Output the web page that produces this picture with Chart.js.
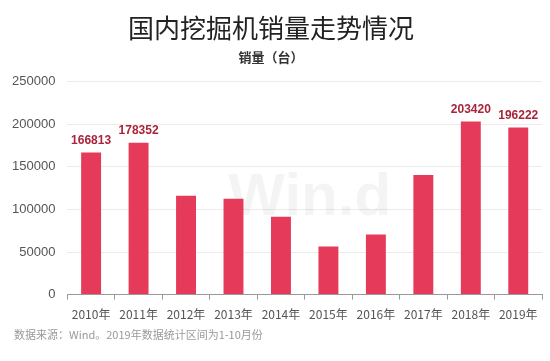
<!DOCTYPE html>
<html>
<head>
<meta charset="utf-8">
<script src="https://cdn.jsdelivr.net/npm/chart.js@4"></script>
<style>
  html, body { margin: 0; padding: 0; background: #fff; }
  #wrap { width: 550px; height: 361px; }
</style>
</head>
<body>
<div id="wrap"><canvas id="salesChart" width="550" height="361"></canvas></div>
<script>
const years = ['2010年', '2011年', '2012年', '2013年', '2014年', '2015年', '2016年', '2017年', '2018年', '2019年'];
const sales = [166813, 178352, 116000, 112500, 91500, 56500, 70500, 140500, 203420, 196222];
const labelled = [true, true, false, false, false, false, false, false, true, true];
const yTicks = [0, 50000, 100000, 150000, 200000, 250000];
const sourceNote = '数据来源：Wind。2019年数据统计区间为1-10月份';

const fontFamily = '"Noto Sans CJK SC", "Noto Sans", sans-serif';

// value labels over selected bars, watermark and the source note
const extras = {
    id: 'extras',
    beforeDatasetsDraw(chart) {
        const c = chart.ctx;
        const area = chart.chartArea;
        c.save();
        c.fillStyle = 'rgba(0,0,0,0.045)';
        c.font = 'bold 60px "Liberation Sans", sans-serif';
        c.textAlign = 'center';
        c.textBaseline = 'middle';
        c.fillText('Win.d', (area.left + area.right) / 2 + 5, 198);
        c.restore();
    },
    afterDatasetsDraw(chart) {
        const c = chart.ctx;
        const meta = chart.getDatasetMeta(0);
        c.save();
        c.fillStyle = '#a8243a';
        c.font = 'bold 12px "Liberation Sans", sans-serif';
        c.textAlign = 'center';
        c.textBaseline = 'bottom';
        meta.data.forEach((bar, i) => {
            if (!labelled[i]) return;
            c.fillText(String(sales[i]), bar.x, bar.y - 6);
        });
        c.fillStyle = '#9a9a9a';
        c.font = '11px ' + fontFamily;
        c.textAlign = 'left';
        c.textBaseline = 'middle';
        c.fillText(sourceNote, 14, 335);
        c.restore();
    }
};

new Chart(document.getElementById('salesChart'), {
    type: 'bar',
    data: {
        labels: years,
        datasets: [{
            data: sales,
            backgroundColor: '#e63a5b',
            borderWidth: 0,
            barPercentage: 0.42,
            categoryPercentage: 1
        }]
    },
    options: {
        responsive: false,
        animation: false,
        layout: { padding: { left: 0, right: 8, top: 0, bottom: 31 } },
        plugins: {
            legend: { display: false },
            tooltip: { enabled: false },
            title: {
                display: true,
                text: '国内挖掘机销量走势情况',
                color: '#222',
                font: { family: fontFamily, size: 26, weight: 'normal' },
                padding: { top: 13, bottom: 5 }
            },
            subtitle: {
                display: true,
                text: '销量（台）',
                color: '#333',
                font: { family: fontFamily, size: 13, weight: 'bold' },
                padding: { top: 0, bottom: 17 }
            }
        },
        scales: {
            x: {
                grid: { display: true, drawOnChartArea: false, tickLength: 5, color: '#999' },
                border: { color: '#999' },
                ticks: {
                    color: '#555',
                    padding: 8,
                    font: { family: fontFamily, size: 12 },
                    maxRotation: 0,
                    autoSkip: false
                }
            },
            y: {
                min: 0,
                max: 250000,
                afterBuildTicks(axis) {
                    axis.ticks = yTicks.map(v => ({ value: v }));
                },
                grid: { color: '#ececec', drawTicks: false },
                border: { display: false },
                ticks: {
                    color: '#555',
                    padding: 12,
                    font: { family: '"Liberation Sans", sans-serif', size: 13 },
                    callback: v => String(v)
                }
            }
        }
    },
    plugins: [extras]
});
</script>
</body>
</html>
